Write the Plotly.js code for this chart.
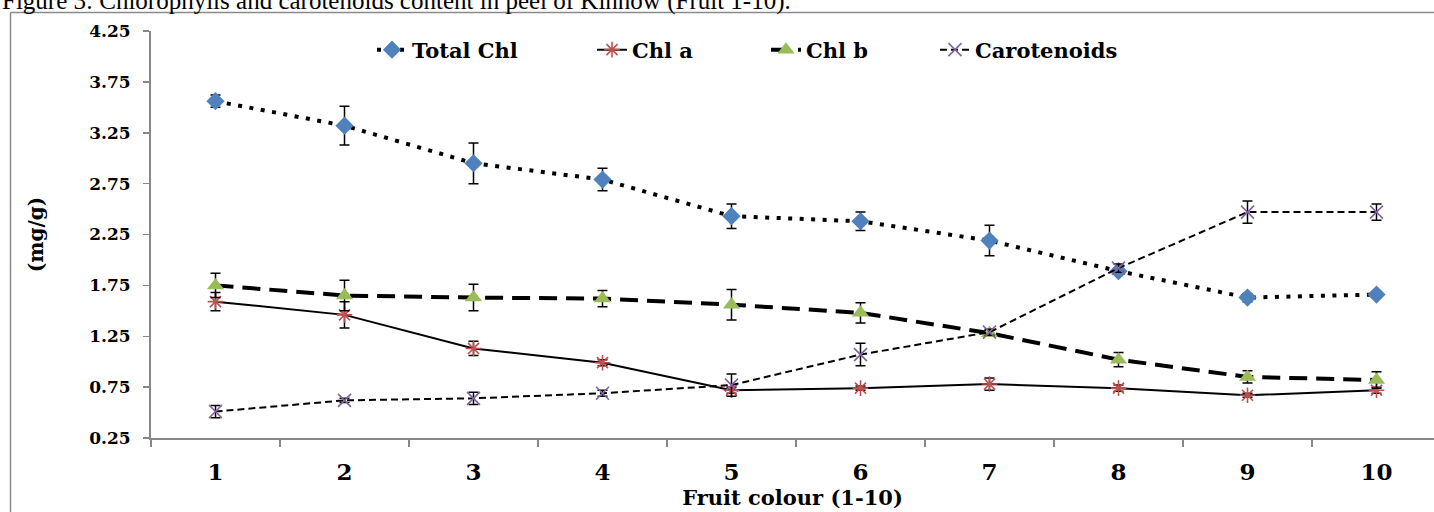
<!DOCTYPE html>
<html>
<head>
<meta charset="utf-8">
<script src="https://cdn.plot.ly/plotly-3.0.1.min.js"></script>
<style>
html, body { margin: 0; padding: 0; background: #fff; overflow: hidden; }
#chart { width: 1434px; height: 512px; }
</style>
</head>
<body>
<div id="chart"></div>
<script>
// ---- data ----
const categories = ['1', '2', '3', '4', '5', '6', '7', '8', '9', '10'];
const totalChl    = [3.56, 3.32, 2.95, 2.79, 2.43, 2.38, 2.19, 1.89, 1.63, 1.66];
const totalChlErr = [0.06, 0.19, 0.20, 0.11, 0.12, 0.09, 0.15, 0.03, 0.04, 0.03];
const chlA        = [1.59, 1.46, 1.13, 0.99, 0.72, 0.74, 0.78, 0.74, 0.67, 0.72];
const chlAErr     = [0.09, 0.13, 0.07, 0.03, 0.03, 0.02, 0.06, 0.03, 0.02, 0.03];
const chlB        = [1.75, 1.65, 1.63, 1.62, 1.56, 1.48, 1.28, 1.02, 0.85, 0.82];
const chlBErr     = [0.12, 0.15, 0.13, 0.08, 0.15, 0.10, 0.03, 0.07, 0.06, 0.08];
const carotenoids = [0.51, 0.62, 0.64, 0.69, 0.77, 1.07, 1.29, 1.92, 2.47, 2.47];
const carotErr    = [0.06, 0.02, 0.06, 0.03, 0.11, 0.11, 0.03, 0.04, 0.11, 0.08];
const seriesNames = ['Total Chl', 'Chl a', 'Chl b', 'Carotenoids'];
const yTickVals = [0.25, 0.75, 1.25, 1.75, 2.25, 2.75, 3.25, 3.75, 4.25];
const captionText = 'Figure 3: Chlorophylls and carotenoids content in peel of Kinnow (Fruit 1-10).';
const xTitle = 'Fruit colour (1-10)';
const yTitle = '(mg/g)';

// ---- layout geometry (pixels) ----
const W = 1434, H = 512;
const L = 151, T = 31, B = 74, R = 0;
const plotW = W - L - R, plotH = H - T - B;
const px2x = p => (p - L) / plotW;
const px2y = p => (H - B - p) / plotH;

const FONT = 'DejaVu Serif';
const errStyle = (arr) => ({ type: 'data', array: arr, visible: true, color: '#000', thickness: 1.5, width: 5 });

const traces = [
  {
    x: categories, y: totalChl, name: seriesNames[0], type: 'scatter', mode: 'lines+markers', legend: 'legend',
    line: { color: '#000', width: 4, dash: '4px,7.5px' },
    marker: { symbol: 'diamond', size: 14, color: '#4F81BD', line: { width: 0 } },
    error_y: errStyle(totalChlErr)
  },
  {
    x: categories, y: chlA, name: seriesNames[1], type: 'scatter', mode: 'lines+markers', legend: 'legend2',
    line: { color: '#000', width: 2 },
    marker: { symbol: 'asterisk-open', size: 13, color: '#C0504D', line: { color: '#C0504D', width: 1.6 } },
    error_y: errStyle(chlAErr)
  },
  {
    x: categories, y: chlB, name: seriesNames[2], type: 'scatter', mode: 'lines+markers', legend: 'legend3',
    line: { color: '#000', width: 4, dash: '18px,9px' },
    marker: { symbol: 'triangle-up', size: 15, color: '#9BBB59', line: { width: 0 } },
    error_y: errStyle(chlBErr)
  },
  {
    x: categories, y: carotenoids, name: seriesNames[3], type: 'scatter', mode: 'lines+markers', legend: 'legend4',
    line: { color: '#000', width: 2, dash: '7px,4px' },
    marker: { symbol: 'x-thin-open', size: 13, color: '#8064A2', line: { color: '#8064A2', width: 1.6 } },
    error_y: errStyle(carotErr)
  }
];

const legendBase = (textStartPx) => ({
  orientation: 'h', x: px2x(textStartPx - 40), xanchor: 'left', y: px2y(50), yanchor: 'middle',
  font: { family: FONT, size: 21, weight: 'bold', color: '#000' },
  bgcolor: 'rgba(0,0,0,0)', borderwidth: 0
});

const axisGray = '#878787';
const layout = {
  width: W, height: H,
  margin: { l: L, r: R, t: T, b: B, pad: 0 },
  paper_bgcolor: '#fff', plot_bgcolor: '#fff',
  font: { family: FONT, color: '#000' },
  showlegend: true,
  legend: legendBase(412),
  legend2: legendBase(632),
  legend3: legendBase(806),
  legend4: legendBase(975),
  xaxis: {
    type: 'category', range: [-0.5, -0.5 + plotW / 129],
    showgrid: false, zeroline: false,
    showline: true, linecolor: axisGray, linewidth: 2,
    ticks: 'outside', tickson: 'boundaries', ticklen: 7, tickcolor: axisGray, tickwidth: 1.5,
    tickfont: { family: FONT, size: 23, weight: 'bold' },
    ticklabelstandoff: 12,
    title: { text: xTitle, font: { family: FONT, size: 21, weight: 'bold' }, standoff: 3 },
    fixedrange: true
  },
  yaxis: {
    range: [0.25, 4.25], tickvals: yTickVals, tickformat: '.2f',
    showgrid: false, zeroline: false,
    showline: true, linecolor: axisGray, linewidth: 2,
    ticks: 'outside', ticklen: 6, tickcolor: axisGray, tickwidth: 1.5,
    tickfont: { family: FONT, size: 17, weight: 'bold' },
    ticklabelstandoff: 9,
    title: { text: yTitle, font: { family: FONT, size: 20, weight: 'bold' }, standoff: 40 },
    fixedrange: true
  },
  annotations: [
    {
      text: captionText, xref: 'paper', yref: 'paper',
      x: px2x(0), xanchor: 'left', y: px2y(0.5), yanchor: 'middle',
      showarrow: false, font: { family: 'Liberation Serif', size: 25, color: '#000' }
    }
  ],
  shapes: [
    { type: 'line', xref: 'paper', yref: 'paper', x0: px2x(10.5), x1: px2x(10.5), y0: px2y(12.5), y1: px2y(530),
      line: { color: '#8a8a8a', width: 1.5 } },
    { type: 'line', xref: 'paper', yref: 'paper', x0: px2x(10.5), x1: px2x(1450), y0: px2y(12.5), y1: px2y(12.5),
      line: { color: '#8a8a8a', width: 1.5 } }
  ]
};

Plotly.newPlot('chart', traces, layout, { staticPlot: true, displayModeBar: false });
</script>
</body>
</html>
